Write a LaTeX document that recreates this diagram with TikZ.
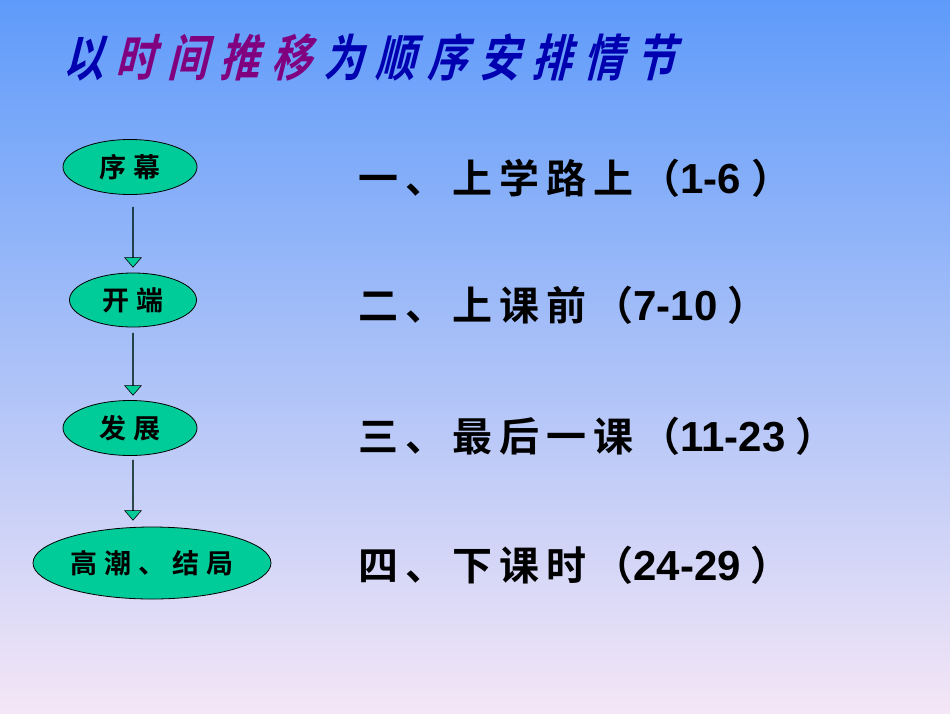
\documentclass[tikz,border=0pt]{standalone}
\usepackage{fontspec}
\newfontfamily\cjkb{Noto Sans CJK SC Bold}
\newfontfamily\cjkbi[FakeSlant=0.25,FakeStretch=0.8]{Noto Sans CJK SC Bold}
\newfontfamily\arb{Liberation Sans Bold}
\usetikzlibrary{shapes.geometric,shapes.arrows}
\definecolor{tblue}{HTML}{0000B0}
\definecolor{tpurp}{HTML}{800080}
\definecolor{egreen}{HTML}{00CC99}
\newcommand\gp{\hspace{7pt}}
\newcommand\gq{\hspace{12pt}}
\begin{document}
\begin{tikzpicture}[x=1pt,y=-1pt,
  ell/.style={ellipse,draw=black,line width=0.8pt,fill=egreen,inner sep=0pt,font=\cjkb\fontsize{27}{27}\selectfont},
  barrow/.style={single arrow,draw=black,line width=0.6pt,fill=egreen,shape border rotate=270,minimum height=#1,minimum width=10pt,single arrow head extend=8pt,inner sep=0pt,single arrow tip angle=82},
  item/.style={anchor=west,font=\cjkb\fontsize{40}{40}\selectfont}]
\shade[top color={rgb,255:red,95;green,155;blue,250},bottom color={rgb,255:red,244;green,230;blue,246}] (0,0) rectangle (950,713);
\useasboundingbox (0,0) rectangle (950,713);
\node[anchor=west,font=\cjkbi\fontsize{50}{50}\selectfont] (title) at (60,57)
 {\color{tblue}以\gq\color{tpurp}时\gq 间\gq 推\gq 移\gq\color{tblue}为\gq 顺\gq 序\gq 安\gq 排\gq 情\gq 节};
\node[ell,minimum width=134pt,minimum height=55pt] (e1) at (130,167) {序\gp 幕};
\node[ell,minimum width=127pt,minimum height=54pt] (e2) at (133,300) {开\gp 端};
\node[ell,minimum width=134pt,minimum height=55pt] (e3) at (130,428) {发\gp 展};
\node[ell,minimum width=238pt,minimum height=72pt] (e4) at (152,563) {高\gp 潮\gp 、\gp 结\gp 局};
\node[barrow=60pt] (a1) at (133,237) {};
\node[barrow=62pt] (a2) at (133,364) {};
\node[barrow=60pt] (a3) at (133,490) {};
\node[item] (t1) at (355,178) {一\gp 、\gp 上\gp 学\gp 路\gp 上\gp （{\arb\fontsize{42}{42}\selectfont 1-6}\hspace{10pt}）};
\node[item] (t2) at (355,305) {二\gp 、\gp 上\gp 课\gp 前\gp （{\arb\fontsize{42}{42}\selectfont 7-10}\hspace{10pt}）};
\node[item] (t3) at (355,436) {三\gp 、\gp 最\gp 后\gp 一\gp 课\gp （{\arb\fontsize{42}{42}\selectfont 11-23}\hspace{10pt}）};
\node[item] (t4) at (355,565) {四\gp 、\gp 下\gp 课\gp 时\gp （{\arb\fontsize{42}{42}\selectfont 24-29}\hspace{10pt}）};
\end{tikzpicture}
\end{document}
